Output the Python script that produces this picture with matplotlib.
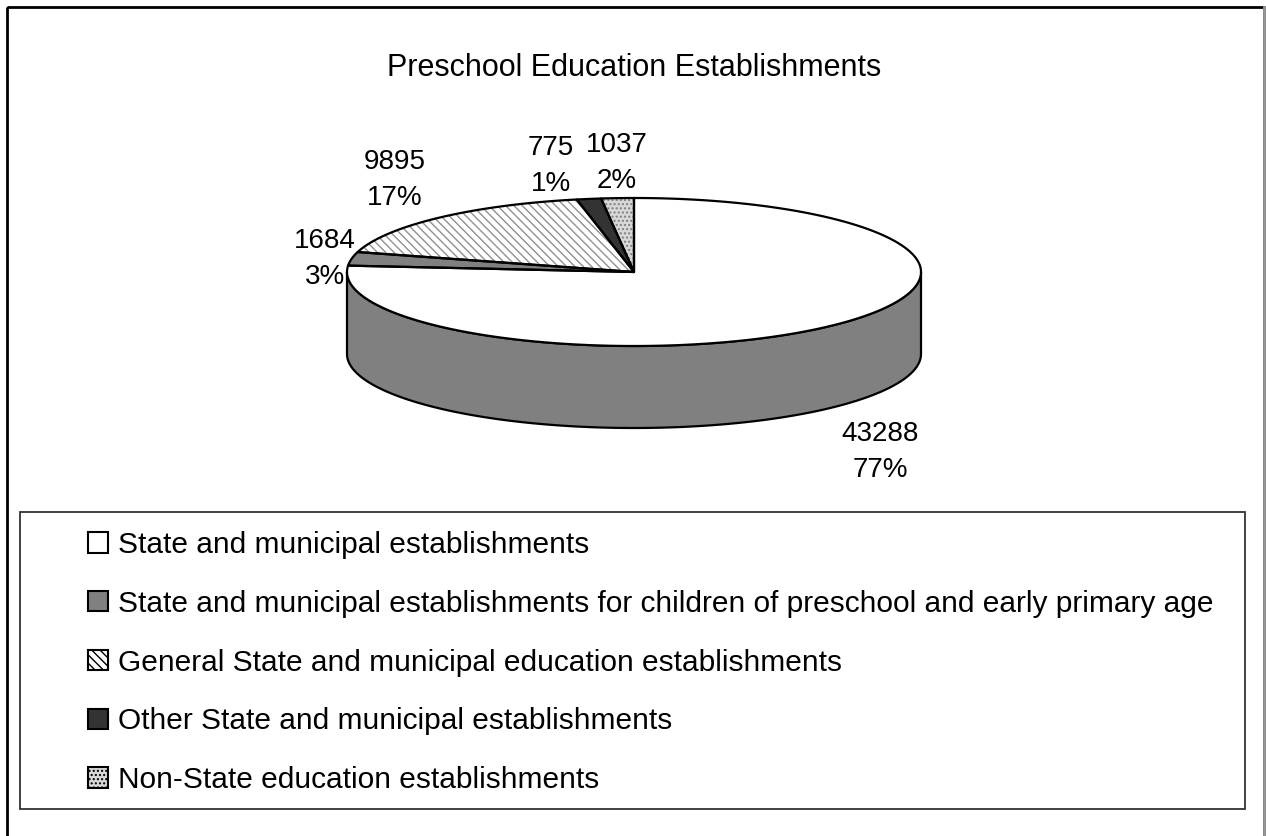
import numpy as np
import matplotlib
matplotlib.use("Agg")
import matplotlib.pyplot as plt
from matplotlib.patches import Polygon, Rectangle, Patch

plt.rcParams['font.family'] = ['Liberation Sans', 'DejaVu Sans']
plt.rcParams['hatch.linewidth'] = 1.0

# data
categories = ["State and municipal establishments",
              "State and municipal establishments for children of preschool and early primary age",
              "General State and municipal education establishments",
              "Other State and municipal establishments",
              "Non-State education establishments"]
values = [43288, 1684, 9895, 775, 1037]
pct_labels = ["77%", "3%", "17%", "1%", "2%"]

# styles
face = ['white', '#808080', 'white', '#333333', '#d8d8d8']
hatches = [None, None, '\\\\\\\\', None, '....']
hatch_col = [None, None, '#909090', None, '#808080']
side = ['#808080', '#555555', '#bbbbbb', '#222222', '#aaaaaa']

# pie geometry (pixels)
cx, cy = 634, 272
rx, ry = 287, 74
depth = 82
label_xy = [(880, 452), (325, 259), (395, 180), (551, 166), (617, 163)]

fig = plt.figure(figsize=(12.66, 8.36), dpi=100)
ax = fig.add_axes([0, 0, 1, 1])
ax.set_xlim(0, 1266)
ax.set_ylim(836, 0)
ax.axis('off')

def pt(th, dy=0):
    t = np.radians(th)
    return np.column_stack([cx + rx*np.cos(t), cy - ry*np.sin(t) + dy])

vals = np.array(values, dtype=float)
fr = vals / vals.sum()
ends = 90 - np.concatenate([[0], np.cumsum(fr)]) * 360

# sides (front half only)
for i in range(len(values)):
    a1, a0 = ends[i], ends[i+1]
    for k in (-1, 0, 1):
        lo = max(a0, -180 + 360*k)
        hi = min(a1, 0 + 360*k)
        if hi - lo <= 0:
            continue
        th = np.linspace(lo, hi, 200)
        top = pt(th)
        bot = pt(th[::-1], depth)
        ax.add_patch(Polygon(np.vstack([top, bot]), closed=True, fc=side[i],
                             ec='black', lw=1.6, joinstyle='round', zorder=2))

# tops
for i in range(len(values)):
    th = np.linspace(ends[i+1], ends[i], 300)
    poly = np.vstack([[cx, cy], pt(th)])
    ax.add_patch(Polygon(poly, closed=True, fc=face[i], ec='none', zorder=3))
    if hatches[i]:
        ax.add_patch(Polygon(poly, closed=True, fill=False, ec=hatch_col[i],
                             lw=0, hatch=hatches[i], zorder=3.5))
    ax.add_patch(Polygon(poly, closed=True, fill=False, ec='black', lw=1.6,
                         joinstyle='round', zorder=4))

for i in range(len(values)):
    ax.text(label_xy[i][0], label_xy[i][1], f"{values[i]}\n{pct_labels[i]}",
            ha='center', va='center', fontsize=20, linespacing=1.5, zorder=5)

ax.text(634, 68, "Preschool Education Establishments", ha='center', va='center',
        fontsize=22)

# outer frame
ax.add_patch(Rectangle((7, 7), 1257, 840, fill=False, ec='black', lw=2, zorder=1))
ax.plot([1264, 1264], [7, 836], color='#999999', lw=2, zorder=1.1)
# legend frame
ax.add_patch(Rectangle((20, 512), 1225, 297, fill=False, ec='#333333', lw=1.3, zorder=1))

handles = []
for i in range(len(values)):
    handles.append(Patch(fc=face[i], ec='black', lw=1.5, hatch=hatches[i]))
leg = ax.legend(handles, categories, loc='upper left',
                bbox_to_anchor=(88/1266, 1 - 531/836),
                fontsize=21.5, frameon=False,
                handlelength=0.66, handleheight=0.66,
                handletextpad=0.35, labelspacing=1.03, borderpad=0,
                borderaxespad=0)

fig.savefig("out.png", dpi=100, facecolor='white')
